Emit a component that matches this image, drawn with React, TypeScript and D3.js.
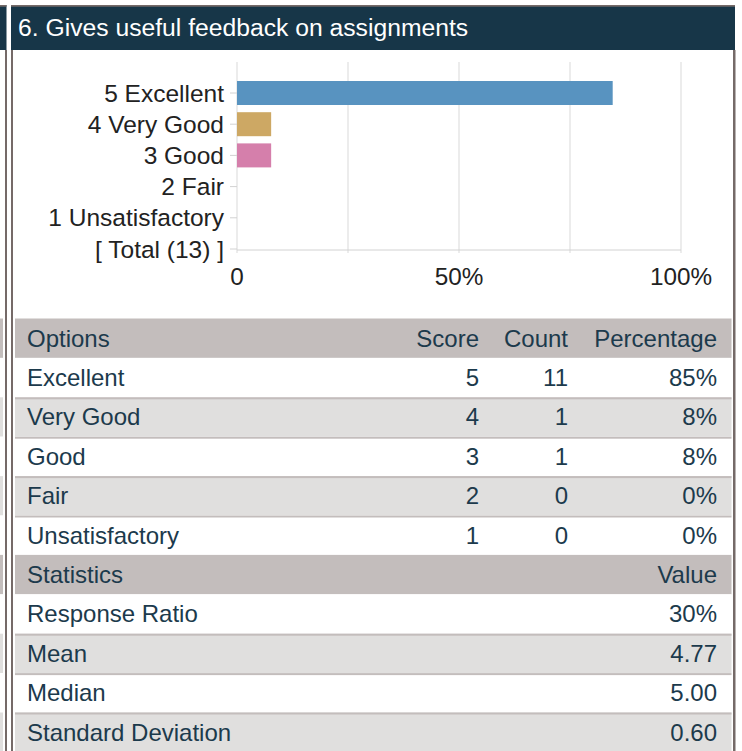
import React, { useEffect, useRef } from 'react';
import * as d3 from 'd3';

const title = '6. Gives useful feedback on assignments';
const options = ['Excellent', 'Very Good', 'Good', 'Fair', 'Unsatisfactory'];
const scores = [5, 4, 3, 2, 1];
const counts = [11, 1, 1, 0, 0];
const barColors = ['#5893c0', '#cda864', '#d57fab', '#8fb98a', '#b07fc0'];
const xTicks = [0, 0.25, 0.5, 0.75, 1];
const xTickLabels = ['0', '', '50%', '', '100%'];
const statLabels = ['Response Ratio', 'Mean', 'Median', 'Standard Deviation'];
const statValues = ['30%', '4.77', '5.00', '0.60'];

const App: React.FC = () => {
  const ref = useRef<SVGSVGElement>(null);

  useEffect(() => {
    if (!ref.current) return;
    const svg = d3.select(ref.current);
    svg.selectAll('*').remove();

    const W = 742;
    const H = 751;
    const font = '"Liberation Sans", Arial, sans-serif';
    const ink = '#1c3a4c';
    const border = '#756a68';
    const headBg = '#c3bdbc';
    const navy = '#173648';
    const total = d3.sum(counts);

    svg.append('rect').attr('width', W).attr('height', H).attr('fill', '#fff');

    // neighbour panel slivers + frame
    svg.append('rect').attr('x', 0).attr('y', 5).attr('width', 6.5).attr('height', 45).attr('fill', navy);
    svg.append('rect').attr('x', 0).attr('y', 5).attr('width', 6.5).attr('height', 1.7).attr('fill', border);
    const sliverRows = d3.range(11);
    const rowY = d3.scaleBand<number>().domain(sliverRows).range([318.5, 318.5 + 11 * 39.4]);
    svg.append('g').selectAll('rect').data(sliverRows).enter().append('rect')
      .attr('x', 0).attr('width', 3)
      .attr('y', d => rowY(d)!).attr('height', rowY.bandwidth())
      .attr('fill', d => (d === 0 || d === 6 ? headBg : d % 2 === 0 ? '#e0dfde' : '#fff'));
    svg.append('rect').attr('x', 5).attr('y', 50).attr('width', 2).attr('height', H).attr('fill', border);

    // title bar
    svg.append('rect').attr('x', 11).attr('y', 5).attr('width', 724).attr('height', 45).attr('fill', navy);
    svg.append('rect').attr('x', 11).attr('y', 5).attr('width', 724).attr('height', 1.7).attr('fill', border);
    svg.append('rect').attr('x', 11).attr('y', 50).attr('width', 2).attr('height', H).attr('fill', border);
    svg.append('rect').attr('x', 733).attr('y', 50).attr('width', 2.5).attr('height', H).attr('fill', border);
    svg.append('text').attr('x', 18).attr('y', 36).attr('fill', '#fff')
      .attr('font-family', font).attr('font-size', 24.7).text(title);

    // chart
    const x = d3.scaleLinear().domain([0, 1]).range([237, 681]);
    const cats = [...options.map((o, i) => `${scores[i]} ${o}`), `[ Total (${total}) ]`];
    const y = d3.scalePoint<string>().domain(cats).range([93, 249]);
    const top = 62;
    const base = 250;

    const g = svg.append('g');
    g.selectAll('.grid').data(xTicks).enter().append('line')
      .attr('x1', d => x(d)).attr('x2', d => x(d))
      .attr('y1', top).attr('y2', base + 3)
      .attr('stroke', '#d9d9d9').attr('stroke-width', 1);
    g.append('line').attr('x1', x(0)).attr('x2', x(1)).attr('y1', base).attr('y2', base)
      .attr('stroke', '#d2d2d2');
    g.selectAll('.ytick').data(cats).enter().append('line')
      .attr('x1', x(0) - 7).attr('x2', x(0)).attr('y1', d => y(d)!).attr('y2', d => y(d)!)
      .attr('stroke', '#d2d2d2');

    g.selectAll('.bar').data(counts).enter().append('rect')
      .attr('x', x(0))
      .attr('y', (_, i) => y(cats[i])! - 12)
      .attr('width', d => x(d / total) - x(0))
      .attr('height', 24)
      .attr('fill', (_, i) => barColors[i]);

    g.selectAll('.ylab').data(cats).enter().append('text')
      .attr('x', 224).attr('y', d => y(d)!).attr('dy', '0.35em')
      .attr('text-anchor', 'end').attr('fill', '#222')
      .attr('font-family', font).attr('font-size', 24.5).text(d => d);

    g.selectAll('.xlab').data(xTicks).enter().append('text')
      .attr('x', d => x(d)).attr('y', 285)
      .attr('text-anchor', 'middle').attr('fill', '#222')
      .attr('font-family', font).attr('font-size', 24.3).text((_, i) => xTickLabels[i]);

    // table
    type Row = { cells: string[]; head: boolean };
    const rows: Row[] = [
      { cells: ['Options', 'Score', 'Count', 'Percentage'], head: true },
      ...options.map((o, i) => ({
        cells: [o, String(scores[i]), String(counts[i]), `${Math.round((counts[i] / total) * 100)}%`],
        head: false,
      })),
      { cells: ['Statistics', '', '', 'Value'], head: true },
      ...statLabels.map((s, i) => ({ cells: [s, '', '', statValues[i]], head: false })),
    ];
    const tx0 = 15;
    const tx1 = 731.5;
    const colRight = [0, 479, 568, 717];

    const tr = svg.append('g').selectAll('g').data(rows).enter().append('g')
      .attr('transform', (_, i) => `translate(0,${rowY(i)})`);
    tr.append('rect').attr('x', tx0).attr('width', tx1 - tx0).attr('height', rowY.bandwidth())
      .attr('fill', (d, i) => (d.head ? headBg : i % 2 === 0 ? '#e0dfde' : '#fff'));
    tr.filter((d, i) => !d.head && i % 2 === 0).append('rect')
      .attr('x', tx0).attr('width', tx1 - tx0).attr('height', 2).attr('fill', headBg);
    tr.filter((d, i) => !d.head && i % 2 === 1 && i > 1 && !rows[i - 1].head).append('rect')
      .attr('x', tx0).attr('width', tx1 - tx0).attr('height', 2).attr('fill', headBg);
    tr.each(function (d) {
      const row = d3.select(this);
      d.cells.forEach((c, j) => {
        if (!c) return;
        row.append('text')
          .attr('x', j === 0 ? 27 : colRight[j])
          .attr('y', 28)
          .attr('text-anchor', j === 0 ? 'start' : 'end')
          .attr('fill', ink)
          .attr('font-family', font).attr('font-size', 24)
          .text(c);
      });
    });
  }, []);

  return (
    <svg
      ref={ref}
      width={742}
      height={751}
      viewBox="0 0 742 751"
      style={{ position: 'absolute', left: 0, top: 0, display: 'block' }}
    />
  );
};

export default App;
